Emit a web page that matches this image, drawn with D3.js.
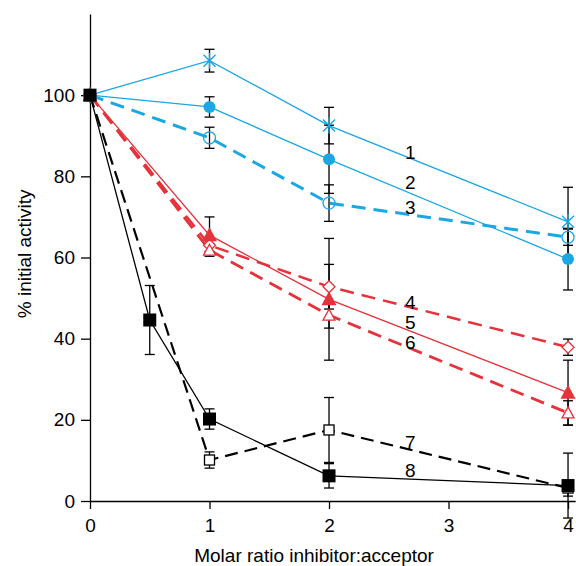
<!DOCTYPE html>
<html>
<head>
<meta charset="utf-8">
<script src="https://cdn.jsdelivr.net/npm/d3@7"></script>
<style>
  body { margin: 0; background: #fff; }
  svg { display: block; font-family: "Liberation Sans", Arial, Helvetica, sans-serif; }
  .axis text { font-size: 19px; fill: #000; }
  .axis path, .axis line { stroke: #000; stroke-width: 1.3; }
</style>
</head>
<body>
<svg id="chart" width="576" height="566"></svg>
<script>
const xTicks = [0, 1, 2, 3, 4];
const yTicks = [0, 20, 40, 60, 80, 100];

// series values
const x4 = [0, 1, 2, 4];
const x8 = [0, 0.5, 1, 2, 4];
const s1 = [100, 108.5, 92.5, 68.8];
const s2 = [100, 97.1, 84.2, 59.6];
const s3 = [100, 89.5, 73.4, 65.0];
const s4 = [100, 63.0, 52.8, 37.9];
const s5 = [100, 65.5, 49.7, 26.7];
const s6 = [100, 61.8, 45.8, 21.7];
const s7 = [100, 10.1, 17.5, 3.2];
const s8 = [100, 44.6, 20.2, 6.2, 3.8];

const e1 = [0, 2.8, 4.5, 8.5];
const e2 = [0, 2.5, 8.4, 7.6];
const e3 = [0, 2.6, 4.5, 2.0];
const e4 = [0, 1.5, 5.5, 2.0];
const e5 = [0, 4.5, 15, 8.0];
const e6 = [0, 1.5, 3.2, 3.0];
const e7 = [0, 2.0, 8.0, 2.0];
const e8 = [0, 8.5, 2.5, 3.0, 8.0];

const labels = ["1", "2", "3", "4", "5", "6", "7", "8"];
const labelY = [86.0, 78.4, 72.4, 49.0, 44.1, 39.2, 14.5, 7.6];

const cyan = "#1aa7e4", red = "#e5323b", black = "#000";

const series = [
  { x: x4, y: s1, e: e1, color: cyan, width: 1.3, dash: null, marker: "x" },
  { x: x4, y: s2, e: e2, color: cyan, width: 1.3, dash: null, marker: "dot" },
  { x: x4, y: s3, e: e3, color: cyan, width: 3, dash: "14,8", marker: "circle" },
  { x: x4, y: s4, e: e4, color: red, width: 2.5, dash: "14,8", marker: "diamond" },
  { x: x4, y: s5, e: e5, color: red, width: 1.3, dash: null, marker: "tri" },
  { x: x4, y: s6, e: e6, color: red, width: 2.8, dash: "14,8", marker: "otri" },
  { x: x4, y: s7, e: e7, color: black, width: 2.2, dash: "13,7", marker: "osq" },
  { x: x8, y: s8, e: e8, color: black, width: 1.3, dash: null, marker: "sq" }
];

const svg = d3.select("#chart");
const x = d3.scaleLinear().domain([0, 4.06]).range([90, 575.2]);
const y = d3.scaleLinear().domain([0, 120]).range([501, 14]);

svg.append("g")
  .attr("class", "axis")
  .attr("transform", "translate(0,501)")
  .call(d3.axisBottom(x).tickValues(xTicks).tickSize(8).tickSizeOuter(0).tickPadding(10).tickFormat(d3.format("d")));

svg.append("g")
  .attr("class", "axis")
  .attr("transform", "translate(90,0)")
  .call(d3.axisLeft(y).tickValues(yTicks).tickSize(9).tickSizeOuter(0).tickPadding(6).tickFormat(d3.format("d")));

svg.selectAll(".axis text").style("font-size", "19px");

svg.append("text")
  .attr("x", x(1.875)).attr("y", 562)
  .attr("text-anchor", "middle")
  .style("font-size", "19px")
  .text("Molar ratio inhibitor:acceptor");

svg.append("text")
  .attr("transform", "translate(31," + y(60.9) + ") rotate(-90)")
  .attr("text-anchor", "middle")
  .style("font-size", "19px")
  .text("% initial activity");

const line = d3.line().x(d => x(d[0])).y(d => y(d[1]));

// lines
series.forEach(s => {
  const pts = s.x.map((v, i) => [v, s.y[i]]);
  svg.append("path")
    .attr("d", line(pts))
    .attr("fill", "none")
    .attr("stroke", s.color)
    .attr("stroke-width", s.width)
    .attr("stroke-dasharray", s.dash);
});

// error bars
const eb = svg.append("g").attr("stroke", "#000").attr("stroke-width", 1.3);
series.forEach(s => {
  s.x.forEach((v, i) => {
    if (!s.e[i]) return;
    const cx = x(v), y0 = y(s.y[i] - s.e[i]), y1 = y(s.y[i] + s.e[i]);
    eb.append("line").attr("x1", cx).attr("x2", cx).attr("y1", y0).attr("y2", y1);
    eb.append("line").attr("x1", cx - 5).attr("x2", cx + 5).attr("y1", y0).attr("y2", y0);
    eb.append("line").attr("x1", cx - 5).attr("x2", cx + 5).attr("y1", y1).attr("y2", y1);
  });
});

// markers
function drawMarker(g, type, color) {
  switch (type) {
    case "x":
      g.append("path").attr("d", "M-6,-6L6,6M-6,6L6,-6M0,-8L0,8")
        .attr("stroke", color).attr("stroke-width", 1.4).attr("fill", "none");
      break;
    case "dot":
      g.append("circle").attr("r", 6).attr("fill", color);
      break;
    case "circle":
      g.append("circle").attr("r", 6).attr("fill", "none").attr("stroke", color).attr("stroke-width", 1.3);
      break;
    case "diamond":
      g.append("path").attr("d", "M0,-6L6,0L0,6L-6,0Z").attr("fill", "#fff").attr("stroke", color).attr("stroke-width", 1.3);
      break;
    case "tri":
      g.append("path").attr("d", "M0,-8L7.5,6L-7.5,6Z").attr("fill", color);
      break;
    case "otri":
      g.append("path").attr("d", "M0,-6L6,5L-6,5Z").attr("fill", "#fff").attr("stroke", color).attr("stroke-width", 1.3);
      break;
    case "osq":
      g.append("rect").attr("x", -5).attr("y", -5).attr("width", 10).attr("height", 10)
        .attr("fill", "#fff").attr("stroke", color).attr("stroke-width", 1.3);
      break;
    case "sq":
      g.append("rect").attr("x", -6.5).attr("y", -6.5).attr("width", 13).attr("height", 13).attr("fill", color);
      break;
  }
}

series.forEach(s => {
  s.x.forEach((v, i) => {
    const g = svg.append("g").attr("transform", `translate(${x(v)},${y(s.y[i])})`);
    drawMarker(g, s.marker, s.color);
  });
});

// series numbers
svg.append("g").selectAll("text")
  .data(labels)
  .join("text")
  .attr("x", x(2.68))
  .attr("y", (d, i) => y(labelY[i]))
  .attr("dy", "0.35em")
  .attr("text-anchor", "middle")
  .style("font-size", "19px")
  .text(d => d);
</script>
</body>
</html>
